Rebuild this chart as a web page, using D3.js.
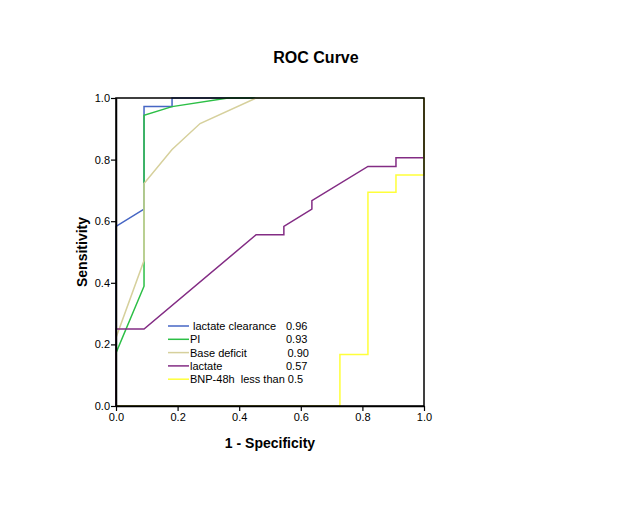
<!DOCTYPE html>
<html>
<head>
<meta charset="utf-8">
<script src="https://cdn.jsdelivr.net/npm/d3@7"></script>
<style>
  body { margin: 0; background: #fff; }
  svg { display: block; font-family: "Liberation Sans", Arial, sans-serif; }
</style>
</head>
<body>
<div id="chart"></div>
<script>
// Series (1 - specificity, sensitivity)
const seriesNames = [" lactate clearance", "PI", "Base deficit", "lactate", "BNP-48h  less than 0.5"];
const seriesAUC = ["0.96", "0.93", "0.90", "0.57", ""];
const seriesColors = ["#4666c4", "#2cbf46", "#d6d09c", "#832c84", "#ffff3a"];

const clearanceX = [0, 0, 0.091, 0.091, 0.182, 0.182, 1];
const clearanceY = [0, 0.583, 0.639, 0.972, 0.972, 1, 1];
const piX = [0, 0, 0.091, 0.091, 0.182, 0.364, 1];
const piY = [0, 0.172, 0.389, 0.944, 0.972, 1, 1];
const baseX = [0, 0, 0.091, 0.091, 0.182, 0.273, 0.455, 1];
const baseY = [0, 0.222, 0.472, 0.722, 0.833, 0.917, 1, 1];
const lactateX = [0, 0, 0.091, 0.455, 0.545, 0.545, 0.636, 0.636, 0.818, 0.909, 0.909, 1, 1];
const lactateY = [0, 0.25, 0.25, 0.556, 0.556, 0.583, 0.639, 0.667, 0.778, 0.778, 0.806, 0.806, 1];
const bnpX = [0, 0.727, 0.727, 0.818, 0.818, 0.909, 0.909, 1, 1];
const bnpY = [0, 0, 0.167, 0.167, 0.694, 0.694, 0.75, 0.75, 1];

const xTicks = [0, 0.2, 0.4, 0.6, 0.8, 1.0];
const yTicks = [0, 0.2, 0.4, 0.6, 0.8, 1.0];

const seriesX = [clearanceX, piX, baseX, lactateX, bnpX];
const seriesY = [clearanceY, piY, baseY, lactateY, bnpY];

const W = 631, H = 506;
const margin = {left: 116, top: 98, right: 631 - 424, bottom: 506 - 406};
const width = W - margin.left - margin.right;
const height = H - margin.top - margin.bottom;

const svg = d3.select("#chart").append("svg")
    .attr("width", W).attr("height", H);

svg.append("rect").attr("width", W).attr("height", H).attr("fill", "#fff");

const x = d3.scaleLinear().domain([0, 1]).range([0, width]);
const y = d3.scaleLinear().domain([0, 1]).range([height, 0]);

const g = svg.append("g").attr("transform", `translate(${margin.left},${margin.top})`);

// curves
const line = d3.line().x(d => x(d[0])).y(d => y(d[1]));
seriesX.forEach((xs, i) => {
    const pts = xs.map((v, j) => [v, seriesY[i][j]]);
    g.append("path")
        .attr("d", line(pts))
        .attr("fill", "none")
        .attr("stroke", seriesColors[i])
        .attr("stroke-width", 1.5);
});

// frame
g.append("rect")
    .attr("width", width).attr("height", height)
    .attr("fill", "none").attr("stroke", "#000").attr("stroke-width", 1.5);

// axes
const xAxis = g.append("g")
    .attr("transform", `translate(0,${height})`)
    .call(d3.axisBottom(x).tickValues(xTicks).tickFormat(d3.format(".1f")).tickSize(5).tickSizeOuter(0));
const yAxis = g.append("g")
    .call(d3.axisLeft(y).tickValues(yTicks).tickFormat(d3.format(".1f")).tickSize(5).tickSizeOuter(0));
[xAxis, yAxis].forEach(a => {
    a.select(".domain").attr("stroke", "#000").attr("stroke-width", 1.5);
    a.selectAll(".tick line").attr("stroke", "#000").attr("stroke-width", 1.2);
    a.selectAll(".tick text").attr("fill", "#000")
        .style("font-family", "'Liberation Sans', Arial, sans-serif").style("font-size", "11px");
});
xAxis.selectAll(".tick text").attr("dy", "0.85em").attr("y", 6);
yAxis.selectAll(".tick text").attr("x", -6);

// titles
svg.append("text")
    .attr("x", 316).attr("y", 63)
    .attr("text-anchor", "middle")
    .style("font-size", "16px").style("font-weight", "bold")
    .text("ROC Curve");

svg.append("text")
    .attr("x", 270).attr("y", 448)
    .attr("text-anchor", "middle")
    .style("font-size", "14px").style("font-weight", "bold")
    .text("1 - Specificity");

svg.append("text")
    .attr("transform", `translate(87,252) rotate(-90)`)
    .attr("text-anchor", "middle")
    .style("font-size", "14px").style("font-weight", "bold")
    .text("Sensitivity");

// legend
const legend = svg.append("g").attr("transform", "translate(168,326)");
seriesNames.forEach((name, i) => {
    const row = legend.append("g").attr("transform", `translate(0,${i * 13.3})`);
    row.append("line")
        .attr("x1", 0).attr("x2", 21).attr("y1", 0).attr("y2", 0)
        .attr("stroke", seriesColors[i]).attr("stroke-width", 1.5);
    row.append("text")
        .attr("x", 22).attr("y", 4)
        .style("font-size", "11px").style("white-space", "pre")
        .attr("xml:space", "preserve")
        .text(name);
    row.append("text")
        .attr("x", i === 2 ? 119.5 : 118).attr("y", 4)
        .style("font-size", "11px")
        .text(seriesAUC[i]);
});
</script>
</body>
</html>
